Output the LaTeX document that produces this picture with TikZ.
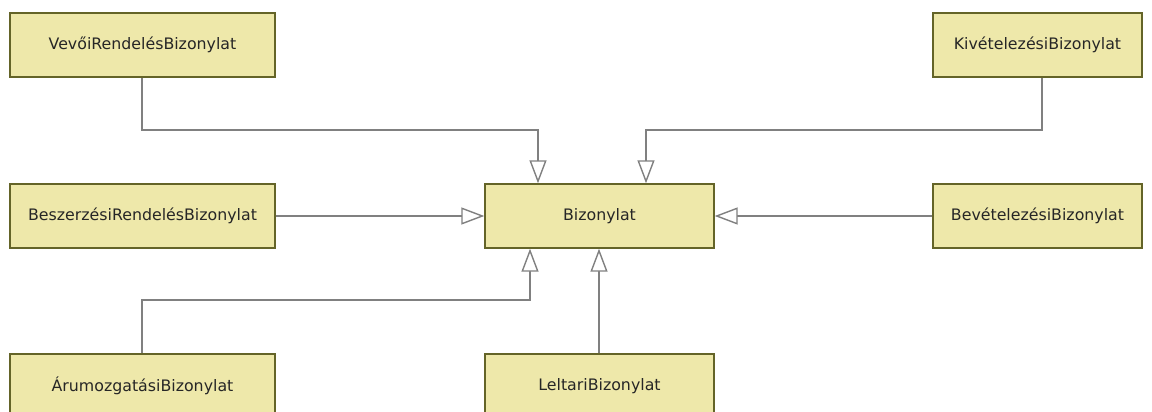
\documentclass[tikz,border=0pt]{standalone}
\usepackage{fontspec}
\setmainfont{DejaVu Sans}
\usetikzlibrary{arrows.meta}
\definecolor{boxfill}{RGB}{238,232,170}
\definecolor{boxline}{RGB}{100,100,40}
\definecolor{conn}{RGB}{128,128,128}
\begin{document}
\begin{tikzpicture}[x=1pt,y=-1pt,
  cls/.style={draw=boxline,line width=1.4pt,fill=boxfill,minimum height=64pt,inner sep=0pt,
    font=\fontsize{15.8}{18}\selectfont,text=black!85},
  gen/.style={draw=conn,line width=1.4pt,-{Triangle[open,length=23pt,width=17pt,fill=white]}}]
\useasboundingbox (0,0) rectangle (1152,412);
\clip (0,0) rectangle (1152,412);
\node[cls,minimum width=265pt] (vevo) at (142.5,45) {VevőiRendelésBizonylat};
\node[cls,minimum width=209pt] (kiv) at (1037.5,45) {KivételezésiBizonylat};
\node[cls,minimum width=265pt] (besz) at (142.5,216) {BeszerzésiRendelésBizonylat};
\node[cls,minimum width=229pt] (biz) at (599.5,216) {Bizonylat};
\node[cls,minimum width=209pt] (bev) at (1037.5,216) {BevételezésiBizonylat};
\node[cls,minimum width=265pt] (aru) at (142.5,386) {ÁrumozgatásiBizonylat};
\node[cls,minimum width=229pt] (lelt) at (599.5,386) {LeltariBizonylat};
\coordinate (t1) at (538,0);
\coordinate (t2) at (646,0);
\coordinate (b1) at (530,0);
\coordinate (b2) at (599,0);
\draw[gen] (vevo.south -| 142,0) |- (142,130) -| (t1 |- biz.north);
\draw[gen] (kiv.south -| 1042,0) |- (646,130) -| (t2 |- biz.north);
\draw[gen] (besz.east) -- (biz.west);
\draw[gen] (bev.west) -- (biz.east);
\draw[gen] (aru.north -| 142,0) |- (142,300) -| (b1 |- biz.south);
\draw[gen] (lelt.north -| b2) -- (b2 |- biz.south);
\end{tikzpicture}
\end{document}
